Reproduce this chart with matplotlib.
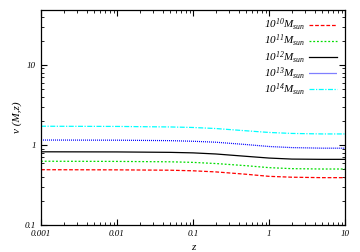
import matplotlib
matplotlib.use("Agg")
import matplotlib.pyplot as plt

plt.rcParams['font.family'] = 'Liberation Serif'
plt.rcParams['font.style'] = 'italic'
plt.rcParams['mathtext.fontset'] = 'custom'
plt.rcParams['mathtext.rm'] = 'Liberation Serif:italic'
plt.rcParams['mathtext.it'] = 'Liberation Serif:italic'
plt.rcParams['font.size'] = 7

# redshift sampling and nu(M, z)
z = [0.001, 0.01, 0.05, 0.1, 0.2, 0.5, 1.0, 2.0, 5.0, 10.0]
nu_1e10 = [0.49, 0.488, 0.483, 0.475, 0.46, 0.43, 0.405, 0.395, 0.39, 0.39]
nu_1e11 = [0.625, 0.622, 0.615, 0.605, 0.585, 0.55, 0.52, 0.505, 0.50, 0.50]
nu_1e12 = [0.82, 0.817, 0.807, 0.795, 0.77, 0.72, 0.685, 0.665, 0.66, 0.66]
nu_1e13 = [1.15, 1.145, 1.13, 1.11, 1.08, 1.01, 0.955, 0.925, 0.91, 0.91]
nu_1e14 = [1.71, 1.70, 1.675, 1.65, 1.60, 1.50, 1.43, 1.39, 1.37, 1.37]

labels = [r'$10^{10}M_{sun}$', r'$10^{11}M_{sun}$', r'$10^{12}M_{sun}$',
          r'$10^{13}M_{sun}$', r'$10^{14}M_{sun}$']

fig = plt.figure(figsize=(3.6, 2.52), dpi=100)
ax = fig.add_axes([41/360, 1-225/252, (345-41)/360, (225-9.5)/252])

ax.plot(z, nu_1e10, color='red', ls=(0, (3, 1.5)), lw=0.9, label=labels[0])
ax.plot(z, nu_1e11, color='#00dd00', ls=(0, (1.5, 1.5)), lw=0.9, label=labels[1])
ax.plot(z, nu_1e12, color='black', ls='-', lw=0.9, label=labels[2])
ax.plot(z, nu_1e13, color='blue', ls=(0, (0.8, 0.8)), lw=0.9, label=labels[3])
ax.plot(z, nu_1e14, color='cyan', ls=(0, (4, 1.2, 1, 1.2)), lw=0.9, label=labels[4])

ax.set_xscale('log')
ax.set_yscale('log')
ax.set_xlim(0.001, 10)
ax.set_ylim(0.1, 49)
ax.set_xticks([0.001, 0.01, 0.1, 1, 10])
ax.set_xticklabels(['0.001', '0.01', '0.1', '1', '10'])
ax.set_yticks([0.1, 1, 10])
ax.set_yticklabels(['0.1', '1', '10'])
ax.tick_params(which='both', direction='in', top=True, right=True, labelsize=6.5)
ax.tick_params(which='major', length=4, width=0.8)
ax.tick_params(which='minor', length=2, width=0.6)
for s in ax.spines.values():
    s.set_linewidth(0.9)

ax.set_xlabel('z', fontsize=8, labelpad=4)
ax.set_ylabel(r'ν (M,z)', fontsize=8, labelpad=2)

leg = ax.legend(loc='upper right', frameon=False, markerfirst=False,
                fontsize=8, handlelength=2.5, labelspacing=0.0,
                borderaxespad=0.3, handletextpad=0.4)

fig.savefig('out.png', dpi=100)
